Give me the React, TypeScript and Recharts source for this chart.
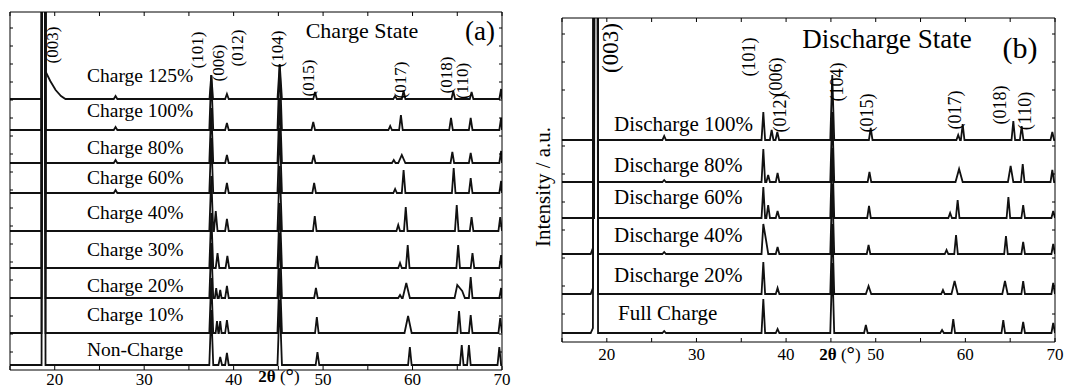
import { LineChart, Line, XAxis, YAxis } from "recharts";

type Peak = [number, number, number?];

// peak position (2θ, deg), height above the trace baseline, optional half width
const chargeLabels = [
  "Charge 125%",
  "Charge 100%",
  "Charge 80%",
  "Charge 60%",
  "Charge 40%",
  "Charge 30%",
  "Charge 20%",
  "Charge 10%",
  "Non-Charge",
];
const chargeOffsets = [271, 240, 207, 177, 139, 102, 72, 37, 5];

const charge125: Peak[] = [[18.75, 2000, 0.22], [19.0, 27, 0.3], [19.5, 18, 0.4], [20.1, 9, 0.5], [20.7, 3, 0.5], [26.8, 3], [37.5, 24], [39.25, 5], [45.15, 35, 0.25], [49.1, 7], [58.05, 3], [59.0, 8], [64.55, 8], [66.6, 7], [69.9, 10]];
const charge100: Peak[] = [[18.75, 2000, 0.22], [26.8, 3], [37.5, 55, 0.22], [39.25, 7], [45.15, 65, 0.25], [48.9, 8], [57.5, 4], [58.7, 15], [64.3, 12], [66.5, 12], [69.9, 12]];
const charge80: Peak[] = [[18.75, 2000, 0.22], [26.8, 3], [37.5, 55, 0.22], [39.25, 8], [45.15, 65, 0.25], [48.95, 8], [57.9, 3], [58.8, 8, 0.4], [64.45, 11], [66.5, 10], [69.9, 12]];
const charge60: Peak[] = [[18.75, 2000, 0.22], [26.8, 3], [37.5, 55, 0.22], [39.25, 10], [45.15, 65, 0.25], [49.0, 10], [58.05, 4], [59.0, 23], [64.6, 25], [66.5, 15], [69.9, 12]];
const charge40: Peak[] = [[18.75, 2000, 0.22], [37.5, 55, 0.22], [38.0, 20], [39.25, 12], [45.15, 65, 0.25], [49.07, 15], [58.4, 6], [59.24, 24], [64.94, 26], [66.6, 14], [69.8, 14]];
const charge30: Peak[] = [[18.75, 2000, 0.22], [37.5, 55, 0.22], [38.2, 15], [39.3, 12], [45.15, 65, 0.25], [49.3, 12], [58.6, 5], [59.46, 23], [65.1, 23], [66.7, 15], [69.9, 13]];
const charge20: Peak[] = [[18.75, 2000, 0.22], [37.5, 55, 0.22], [38.05, 10, 0.15], [38.5, 8, 0.15], [39.25, 12], [45.15, 65, 0.25], [49.2, 10], [58.6, 3], [59.3, 15, 0.4], [65.0, 13, 0.3], [65.55, 7, 0.3], [66.5, 21], [69.9, 10]];
const charge10: Peak[] = [[18.75, 2000, 0.22], [37.5, 55, 0.22], [38.14, 12, 0.15], [38.5, 12, 0.15], [39.25, 13], [45.15, 65, 0.25], [49.3, 16], [59.5, 17, 0.4], [65.2, 22], [66.5, 18], [69.8, 15]];
const nonCharge: Peak[] = [[18.75, 2000, 0.22], [37.5, 55, 0.22], [38.5, 8], [39.25, 12], [45.15, 65, 0.25], [49.37, 13], [59.7, 18], [65.5, 20], [66.3, 20], [69.7, 18]];
const chargeSeries = [charge125, charge100, charge80, charge60, charge40, charge30, charge20, charge10, nonCharge];

const dischargeLabels = [
  "Discharge 100%",
  "Discharge 80%",
  "Discharge 60%",
  "Discharge 40%",
  "Discharge 20%",
  "Full Charge",
];
const dischargeOffsets = [202, 160, 124, 88, 48, 9];

const discharge100: Peak[] = [[18.8, 2000, 0.22], [26.4, 4], [37.46, 28], [38.39, 10], [39.02, 8], [45.15, 65, 0.22], [49.44, 12], [59.2, 5], [59.7, 16], [65.35, 19], [66.28, 14], [69.7, 8]];
const discharge80: Peak[] = [[18.8, 2000, 0.22], [26.4, 2], [37.46, 33], [38.0, 7], [39.05, 9], [45.15, 70, 0.22], [49.3, 10], [59.3, 13, 0.4], [65.05, 16, 0.3], [66.4, 18], [69.7, 12]];
const discharge60: Peak[] = [[18.8, 2000, 0.22], [37.46, 31], [38.0, 13], [39.05, 7], [45.15, 70, 0.22], [49.25, 12], [58.3, 5], [59.14, 18], [64.8, 21], [66.45, 13], [69.8, 7]];
const discharge40: Peak[] = [[18.45, 6, 0.25], [18.8, 2000, 0.22], [26.4, 2], [37.46, 30], [37.76, 14, 0.25], [39.05, 7], [45.15, 70, 0.22], [49.2, 9], [57.9, 4], [58.96, 19], [64.53, 18], [66.45, 12], [69.8, 10]];
const discharge20: Peak[] = [[18.45, 6, 0.25], [18.8, 2000, 0.22], [37.46, 32], [39.05, 6], [45.15, 70, 0.22], [49.2, 8, 0.3], [57.5, 4], [58.8, 13, 0.35], [64.42, 13, 0.3], [66.45, 13], [69.8, 11]];
const fullCharge: Peak[] = [[18.45, 5, 0.25], [18.8, 2000, 0.22], [26.4, 2], [37.46, 34], [39.05, 4], [45.15, 70, 0.22], [48.9, 8], [57.4, 3], [58.65, 14], [64.23, 13], [66.45, 11], [69.8, 10]];
const dischargeSeries = [discharge100, discharge80, discharge60, discharge40, discharge20, fullCharge];

const chargeHkl = ["(003)", "(101)", "(006)", "(012)", "(104)", "(015)", "(017)", "(018)", "(110)"];
const dischargeHkl = ["(003)", "(101)", "(006)", "(012)", "(104)", "(015)", "(017)", "(018)", "(110)"];

const xTicks = [15, 20, 25, 30, 35, 40, 45, 50, 55, 60, 65, 70];
const chargeYTicks = [18, 36, 54, 72, 90, 108, 126, 144, 162, 180, 198, 216, 234, 252, 270, 288, 306, 324, 342];
const dischargeYTicks = [28, 56, 84, 112, 140, 168, 196, 224, 252, 280, 308];

// layout (page pixels)
const chargeLabelY = [75, 110, 147, 177, 212, 249, 285, 314, 349];
const dischargeLabelY = [124, 165, 197, 235, 275, 313];
const chargeHklPos = [[52.5, 45], [197, 50], [218, 63], [237, 48], [277, 49], [308, 78], [400, 80], [446, 75], [462, 81]];
const dischargeHklPos = [[610, 48], [749, 57], [776, 77], [780, 113], [837, 82], [867, 113], [955, 110], [1000, 105], [1025, 111]];

const FONT = "'Liberation Serif', 'Times New Roman', serif";
const W = 0.2;

function toPoints(peaks: Peak[], base: number) {
  const pts = [{ x: 15, y: base }];
  peaks.forEach((pk, i) => {
    const [p, h, w = W] = pk;
    const prev = peaks[i - 1];
    const next = peaks[i + 1];
    const prevEnd = prev ? prev[0] + (prev[2] ?? W) : 15;
    const nextStart = next ? next[0] - (next[2] ?? W) : 70;
    if (p - w > prevEnd) pts.push({ x: p - w, y: base });
    pts.push({ x: p, y: base + h });
    if (p + w < nextStart) pts.push({ x: p + w, y: base });
  });
  pts.push({ x: 70, y: base });
  return pts;
}

const makeBottomTick = (gap: number) => (props: any) => {
  const { x, y, payload } = props;
  return (
    <g>
      <line x1={x} y1={y} x2={x} y2={y - 4} stroke="#000" />
      {payload.value % 10 === 0 ? (
        <text x={x} y={y + gap} textAnchor="middle" dominantBaseline="central" fontFamily={FONT} fontSize={17} fill="#000">
          {payload.value}
        </text>
      ) : null}
    </g>
  );
};
const TopTick = (props: any) => <line x1={props.x} y1={props.y} x2={props.x} y2={props.y + 4} stroke="#000" />;
const LeftTick = (props: any) => <line x1={props.x} y1={props.y} x2={props.x + 3} y2={props.y} stroke="#000" />;
const RightTick = (props: any) => <line x1={props.x} y1={props.y} x2={props.x - 3} y2={props.y} stroke="#000" />;

function Panel(p: {
  left: number;
  width: number;
  margin: { top: number; right: number; bottom: number; left: number };
  yMax: number;
  yTicks: number[];
  gap: number;
  series: Peak[][];
  offsets: number[];
}) {
  return (
    <div style={{ position: "absolute", left: p.left, top: 0 }}>
      <LineChart width={p.width} height={387} margin={p.margin}>
        <XAxis dataKey="x" type="number" domain={[15, 70]} allowDataOverflow ticks={xTicks} interval={0} height={1} tickSize={0} tickMargin={0} tickLine={false} axisLine={{ stroke: "#000" }} tick={makeBottomTick(p.gap)} />
        <XAxis xAxisId="top" orientation="top" dataKey="x" type="number" domain={[15, 70]} allowDataOverflow ticks={xTicks} interval={0} height={1} tickSize={0} tickMargin={0} tickLine={false} axisLine={{ stroke: "#000" }} tick={TopTick} />
        <YAxis type="number" domain={[0, p.yMax]} allowDataOverflow ticks={p.yTicks} interval={0} width={1} tickSize={0} tickMargin={0} tickLine={false} axisLine={{ stroke: "#000" }} tick={LeftTick} />
        <YAxis yAxisId="r" orientation="right" type="number" domain={[0, p.yMax]} allowDataOverflow ticks={p.yTicks} interval={0} width={1} tickSize={0} tickMargin={0} tickLine={false} axisLine={{ stroke: "#000" }} tick={RightTick} />
        {p.series.map((s, i) => (
          <Line key={i} data={toPoints(s, p.offsets[i])} dataKey="y" type="linear" stroke="#111" strokeWidth={1.8} dot={false} isAnimationActive={false} />
        ))}
      </LineChart>
    </div>
  );
}

export default function App() {
  return (
    <div style={{ position: "absolute", left: 0, top: 0, width: 1065, height: 387, background: "#fff", overflow: "hidden" }}>
      <style>{`.recharts-surface g[clip-path]{clip-path:none !important}`}</style>
      <Panel left={0} width={520} margin={{ top: 11, right: 17, bottom: 16, left: 9 }} yMax={358} yTicks={chargeYTicks} gap={9} series={chargeSeries} offsets={chargeOffsets} />
      <Panel left={530} width={535} margin={{ top: 17, right: 9, bottom: 44, left: 31 }} yMax={324} yTicks={dischargeYTicks} gap={12} series={dischargeSeries} offsets={dischargeOffsets} />
      <svg width={1065} height={387} style={{ position: "absolute", left: 0, top: 0, pointerEvents: "none" }} fontFamily={FONT} fill="#000">
        {chargeLabels.map((t, i) => (
          <text key={t} x={87} y={chargeLabelY[i]} dominantBaseline="central" fontSize={19.5}>{t}</text>
        ))}
        {dischargeLabels.map((t, i) => (
          <text key={t} x={i === 5 ? 618 : 614} y={dischargeLabelY[i]} dominantBaseline="central" fontSize={21}>{t}</text>
        ))}
        {chargeHkl.map((t, i) => (
          <text key={"a" + i} transform={`translate(${chargeHklPos[i][0]},${chargeHklPos[i][1]}) rotate(-90)`} textAnchor="middle" dominantBaseline="central" fontSize={17}>{t}</text>
        ))}
        {dischargeHkl.map((t, i) => (
          <text key={"b" + i} transform={`translate(${dischargeHklPos[i][0]},${dischargeHklPos[i][1]}) rotate(-90)`} textAnchor="middle" dominantBaseline="central" fontSize={i === 0 ? 23 : 18}>{t}</text>
        ))}
        <text x={362} y={30} textAnchor="middle" dominantBaseline="central" fontSize={22}>Charge State</text>
        <text x={480} y={31} textAnchor="middle" dominantBaseline="central" fontSize={27}>(a)</text>
        <text x={887} y={39} textAnchor="middle" dominantBaseline="central" fontSize={27}>Discharge State</text>
        <text x={1020} y={47} textAnchor="middle" dominantBaseline="central" fontSize={30}>(b)</text>
        <text transform="translate(543,187) rotate(-90)" textAnchor="middle" dominantBaseline="central" fontSize={21}>Intensity / a.u.</text>
        <text x={279} y={376} textAnchor="middle" dominantBaseline="central" fontSize={17} fontWeight="bold">
          2θ <tspan fontWeight="normal">(</tspan><tspan fontSize={21}>°</tspan><tspan fontWeight="normal">)</tspan>
        </text>
        <text x={840} y={354} textAnchor="middle" dominantBaseline="central" fontSize={17} fontWeight="bold">
          2θ <tspan fontWeight="normal">(</tspan><tspan fontSize={21}>°</tspan><tspan fontWeight="normal">)</tspan>
        </text>
      </svg>
    </div>
  );
}
